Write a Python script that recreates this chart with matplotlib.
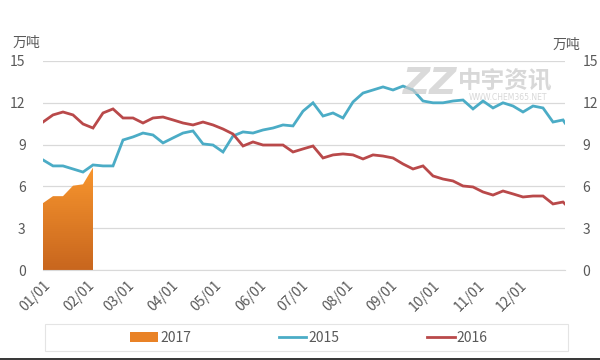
import matplotlib
matplotlib.use("Agg")
import matplotlib.pyplot as plt
import numpy as np
from matplotlib.patches import Rectangle, Polygon
from matplotlib.lines import Line2D
from matplotlib.patches import Patch
from matplotlib.colors import LinearSegmentedColormap

plt.rcParams['font.family'] = ['Noto Sans CJK SC', 'DejaVu Sans']

# ---- data (weekly, wan tons) ----
s2015 = [7.9, 7.47, 7.47, 7.25, 7.03, 7.54, 7.47, 7.47, 9.33, 9.55,
         9.83, 9.69, 9.12, 9.48, 9.83, 9.98, 9.05, 8.97, 8.47, 9.62,
         9.91, 9.83, 10.05, 10.19, 10.41, 10.34, 11.4, 12.0, 11.05, 11.27,
         10.91, 12.06, 12.7, 12.92, 13.14, 12.92, 13.2, 12.92, 12.13, 12.0,
         12.0, 12.13, 12.2, 11.56, 12.13, 11.63, 12.0, 11.77, 11.34, 11.77,
         11.63, 10.62, 10.77, 10.55]
s2016 = [10.62, 11.13, 11.34, 11.13, 10.48, 10.19, 11.27, 11.56, 10.91, 10.91,
         10.55, 10.91, 10.98, 10.77, 10.55, 10.41, 10.62, 10.41, 10.12, 9.76,
         8.9, 9.19, 8.97, 8.97, 8.97, 8.47, 8.69, 8.9, 8.04, 8.26,
         8.33, 8.26, 7.97, 8.26, 8.18, 8.04, 7.61, 7.25, 7.47, 6.75,
         6.53, 6.39, 6.03, 5.96, 5.6, 5.38, 5.67, 5.46, 5.24, 5.31,
         5.31, 4.74, 4.88, 4.74]
s2017 = [4.8, 5.3, 5.3, 6.05, 6.15, 7.35]
month_labels = ['01/01', '02/01', '03/01', '04/01', '05/01', '06/01',
                '07/01', '08/01', '09/01', '10/01', '11/01', '12/01']
month_start_day = [0, 31, 59, 90, 120, 151, 181, 212, 243, 273, 304, 334]
yticks = [0, 3, 6, 9, 12, 15]

x15 = np.arange(len(s2015), dtype=float)
x15[-1] = len(s2015) - 1.8
x16 = np.arange(len(s2016), dtype=float)
x16[-1] = len(s2016) - 1.8
x17 = np.arange(len(s2017), dtype=float)
month_pos = [d / 7.0 for d in month_start_day]

c15 = '#4BACC6'
c16 = '#B9494A'
grid_c = '#D9D9D9'
txt_c = '#595959'

fig = plt.figure(figsize=(6, 3.6), dpi=100)
ax = fig.add_axes([43/600, 1-270/360, (565-43)/600, (270-61)/360])
ax.set_xlim(0, 52.2)
ax.set_ylim(0, 15)

# gradient-filled 2017 area
verts = [(x17[0], 0)] + list(zip(x17, s2017)) + [(x17[-1], 0)]
poly = Polygon(verts, closed=True, facecolor='none', edgecolor='none')
ax.add_patch(poly)
cmap = LinearSegmentedColormap.from_list('og', ['#C8661E', '#F8962E'])
grad = np.linspace(0, 1, 256).reshape(-1, 1)
im = ax.imshow(grad, cmap=cmap, origin='lower', aspect='auto',
               extent=[x17[0], x17[-1], 0, max(s2017)], zorder=2)
im.set_clip_path(poly)

ax.plot(x15, s2015, color=c15, lw=2.0, zorder=3, solid_joinstyle='miter')
ax.plot(x16, s2016, color=c16, lw=2.0, zorder=3, solid_joinstyle='miter')

ax.set_yticks(yticks)
ax.grid(axis='y', color=grid_c, lw=0.9)
ax.set_axisbelow(True)
for s in ['top', 'left', 'right']:
    ax.spines[s].set_visible(False)
ax.spines['bottom'].set_color(grid_c)
ax.tick_params(axis='y', left=False, right=False, labelleft=True, labelright=True,
               labelsize=10, labelcolor=txt_c, pad=9)
ax.set_xticks(month_pos)
ax.set_xticklabels(month_labels, rotation=45, ha='right', rotation_mode='anchor')
ax.tick_params(axis='x', length=0, labelsize=10, labelcolor=txt_c, pad=6)

fig.text(13/600, 1-43/360, '万吨', fontsize=10, color=txt_c, va='center', ha='left')
fig.text(553/600, 1-45/360, '万吨', fontsize=10, color=txt_c, va='center', ha='left')

# watermark
wm = '#CBCBCB'
fig.text(505/600, 1-80/360, '中宇资讯', fontsize=17, fontweight='bold', color=wm,
         ha='center', va='center', alpha=0.75)
fig.text(508/600, 1-97/360, 'WWW.CHEM365.NET', fontsize=5.5, color=wm,
         ha='center', va='center', alpha=0.75, family='DejaVu Sans')
fig.text(430/600, 1-84/360, 'ZZ', fontsize=27, fontweight='bold', style='italic',
         color=wm, ha='center', va='center', alpha=0.7, family='DejaVu Sans')

# legend box
fig.patches.append(Rectangle((45/600, 1-351/360), 523/600, 27/360,
                             transform=fig.transFigure, facecolor='white',
                             edgecolor='#E4E4E4', lw=0.8))
handles = [Patch(facecolor='#E98226', edgecolor='none'),
           Line2D([], [], color=c15, lw=2.0),
           Line2D([], [], color=c16, lw=2.0)]
fig.legend(handles, ['2017', '2015', '2016'], loc='center',
           bbox_to_anchor=(309/600, 1-338/360), ncol=3, frameon=False,
           fontsize=10, handlelength=2.0, handletextpad=0.15,
           columnspacing=6.3, labelcolor=txt_c, handleheight=0.8)

# bottom dark border
fig.patches.append(Rectangle((0, 0), 1, 2/360, transform=fig.transFigure,
                             facecolor='#3A3A3A', edgecolor='none'))

fig.savefig('out.png', dpi=100)
